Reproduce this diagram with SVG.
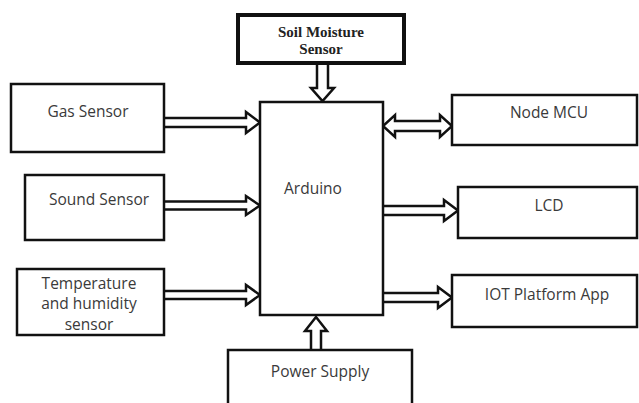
<svg xmlns="http://www.w3.org/2000/svg" width="639" height="403" viewBox="0 0 639 403">
<style>
.box{fill:#fff;stroke:#111;stroke-width:2.5}
.thick{fill:#fff;stroke:#111;stroke-width:4}
.arr{fill:#fff;stroke:#111;stroke-width:2.5;stroke-linejoin:miter}
.t{font-family:"Open Sans","Liberation Sans",sans-serif;font-size:15.5px;fill:#3a3a3a;text-anchor:middle}
.s{font-family:"Liberation Serif","Times New Roman",serif;font-size:15px;font-weight:bold;fill:#222;text-anchor:middle}
</style>
<rect width="639" height="403" fill="#fff"/>
<g id="connectors">
<path class="arr" d="M164,118 H246 V112 L260,122.5 L246,133 V127 H164"/>
<path class="arr" d="M164,201.5 H246 V196 L260,205.5 L246,215 V209.5 H164"/>
<path class="arr" d="M164,291 H246 V285 L260,295 L246,305 V299 H164"/>
<path class="arr" d="M395,121 H440 V115 L452,126 L440,137 V131 H395 V137 L383,126 L395,115 Z"/>
<path class="arr" d="M383,206 H444 V200 L458,210.5 L444,221 V215 H383"/>
<path class="arr" d="M383,293 H438 V287 L452,297.5 L438,308 V302 H383"/>
<path class="arr" d="M317,63 V88 H311 L322.5,101 L334,88 H328 V63"/>
<path class="arr" d="M311,350 V331 H305 L316,317 L327,331 H321 V350"/>
</g>
<g id="soil"><rect class="thick" x="238" y="15" width="166" height="48"/><text class="s" x="321" y="37">Soil Moisture</text><text class="s" x="321" y="54">Sensor</text></g>
<g id="arduino"><rect class="box" x="260" y="102" width="123" height="213"/><text class="t" x="313" y="194">Arduino</text></g>
<g id="gas"><rect class="box" x="11" y="84" width="153" height="68"/><text class="t" x="88" y="117">Gas Sensor</text></g>
<g id="sound"><rect class="box" x="25" y="175" width="139" height="65"/><text class="t" x="99" y="205">Sound Sensor</text></g>
<g id="temp"><rect class="box" x="17" y="269" width="147" height="66"/><text class="t" x="89" y="289">Temperature</text><text class="t" x="89" y="309">and humidity</text><text class="t" x="89" y="330">sensor</text></g>
<g id="nodemcu"><rect class="box" x="452" y="95" width="185" height="50"/><text class="t" x="549" y="118">Node MCU</text></g>
<g id="lcd"><rect class="box" x="458" y="187" width="179" height="51"/><text class="t" x="549" y="211">LCD</text></g>
<g id="iot"><rect class="box" x="452" y="275" width="185" height="52"/><text class="t" x="547" y="300">IOT Platform App</text></g>
<g id="power"><rect class="box" x="228" y="350" width="184" height="60"/><text class="t" x="320" y="377">Power Supply</text></g>
</svg>
